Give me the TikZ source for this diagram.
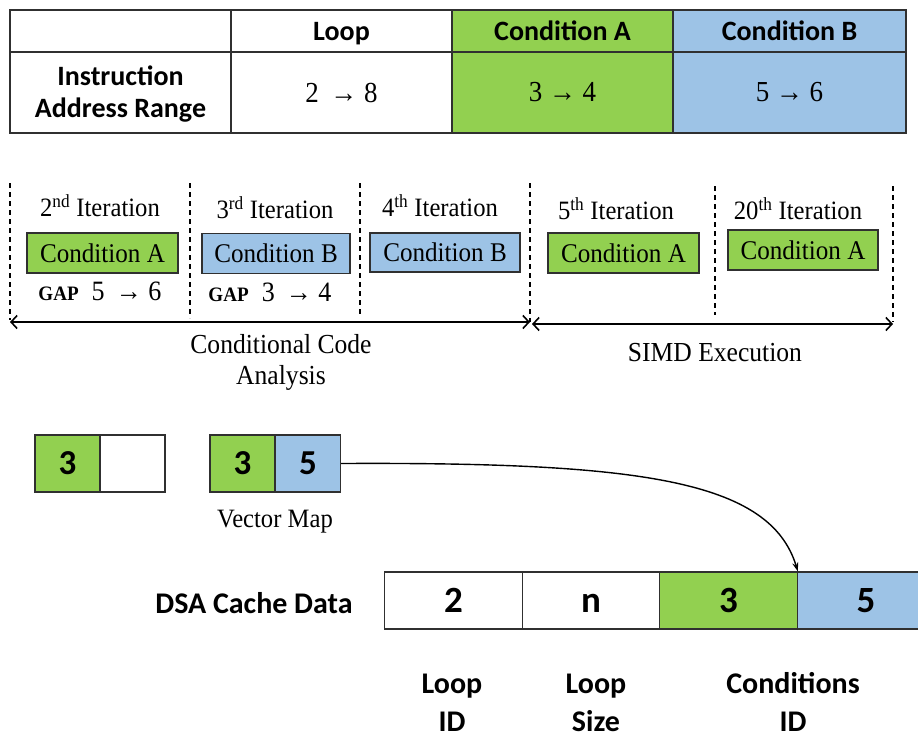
\documentclass[tikz,border=0pt]{standalone}
\usepackage{fontspec}
\setmainfont{Liberation Serif}[FakeStretch=0.93]
\newfontfamily\calib{Carlito}
\usetikzlibrary{arrows.meta}
\definecolor{condA}{HTML}{92D050}
\definecolor{condB}{HTML}{9DC3E6}
\definecolor{rule}{HTML}{303030}
\tikzset{
  cell/.style={draw=rule, line width=1.2pt, inner sep=0pt, anchor=center},
  head/.style={font=\calib\bfseries\fontsize{28}{33}\selectfont},
  toprow/.style={cell, head, minimum width=221pt, minimum height=42pt, text height=20pt, text depth=2pt},
  rng/.style={font=\fontsize{29}{32}\selectfont},
  iter/.style={font=\fontsize{26.5}{30}\selectfont, inner sep=0pt},
  condbox/.style={draw=rule, line width=1.2pt, minimum width=151pt, minimum height=40pt, inner sep=0pt, font=\fontsize{27}{30}\selectfont},
  gap/.style={font=\fontsize{28}{30}\selectfont, inner sep=0pt},
  sep/.style={line width=1.4pt, dash pattern=on 5pt off 4pt},
  span/.style={line width=1.6pt, {Straight Barb[length=6pt,width=13pt,line width=1.6pt]}-{Straight Barb[length=6pt,width=13pt,line width=1.6pt]}},
  vcell/.style={draw=rule, line width=1.2pt, minimum width=65pt, minimum height=57pt, inner sep=0pt, font=\calib\bfseries\fontsize{35}{36}\selectfont},
  dcell/.style={draw=rule, line width=1.2pt, minimum width=137.5pt, minimum height=57pt, inner sep=0pt, text height=24pt, text depth=0pt, font=\calib\bfseries\fontsize{37}{38}\selectfont},
  lbl/.style={font=\calib\bfseries\fontsize{30}{38}\selectfont, align=center, inner sep=0pt},
  note/.style={font=\fontsize{27.5}{31}\selectfont, align=center, inner sep=0pt}
}
\begin{document}
\begin{tikzpicture}[x=1pt, y=-1pt]
\useasboundingbox (0,0) rectangle (918,737);

% address range table
\node[toprow] (t00) at (120.5,31) {};
\node[toprow] (t01) at (341.5,31) {Loop};
\node[toprow, fill=condA] (t02) at (562.5,31) {Condition A};
\node[toprow, fill=condB, minimum width=233pt] (t03) at (789.5,31) {Condition B};
\node[cell, minimum width=221pt, minimum height=81pt] (t10) at (120.5,92.5) {};
\node[head, align=center, inner sep=0pt, anchor=base] (t10txt) at (120.5,117) {Instruction\\[-1pt]Address Range};
\node[cell, minimum width=221pt, minimum height=81pt, rng] (t11) at (341.5,92.5) {2\, → 8};
\node[cell, fill=condA, minimum width=221pt, minimum height=81pt, rng] (t12) at (562.5,92.5) {3 → 4};
\node[cell, fill=condB, minimum width=233pt, minimum height=81pt, rng] (t13) at (789.5,92.5) {5 → 6};

% iteration separators
\coordinate (s0t) at (10,183);  \coordinate (s0b) at (10,320);
\coordinate (s1t) at (190,183); \coordinate (s1b) at (190,318);
\coordinate (s2t) at (360,183); \coordinate (s2b) at (360,315);
\coordinate (s3t) at (530,183); \coordinate (s3b) at (530,322);
\coordinate (s4t) at (715,186); \coordinate (s4b) at (715,315);
\coordinate (s5t) at (893,186); \coordinate (s5b) at (893,322);
\foreach \i in {0,...,5} \draw[sep] (s\i t) -- (s\i b);

% iterations
\node[iter] (i2) at (100,206) {2\textsuperscript{nd} Iteration};
\node[iter] (i3) at (275,208) {3\textsuperscript{rd} Iteration};
\node[iter] (i4) at (440,206) {4\textsuperscript{th} Iteration};
\node[iter] (i5) at (616,209) {5\textsuperscript{th} Iteration};
\node[iter] (i20) at (798,209) {20\textsuperscript{th} Iteration};

\node[condbox, fill=condA] (c2) at (102.5,253) {Condition A};
\node[condbox, fill=condB, minimum width=148pt] (c3) at (276,253.5) {Condition B};
\node[condbox, fill=condB, minimum width=150pt, minimum height=39pt] (c4) at (445,252.5) {Condition B};
\node[condbox, fill=condA] (c5) at (623.5,253) {Condition A};
\node[condbox, fill=condA, minimum width=150pt] (c20) at (803,250) {Condition A};

\node[gap] (g2) at (100,291) {\textbf{\fontsize{20.5}{22}\selectfont GAP}\ \ 5 \,→ 6};
\node[gap] (g3) at (270,292) {\textbf{\fontsize{20.5}{22}\selectfont GAP}\ \ 3 \,→ 4};

% phase spans
\coordinate (a1l) at (10,322);  \coordinate (a1r) at (530,322);
\coordinate (a2l) at (532,324); \coordinate (a2r) at (893,324);
\draw[span] (a1l) -- (a1r);
\draw[span] (a2l) -- (a2r);
\node[note] (ca) at (281,362) {Conditional Code\\Analysis};
\node[note] (simd) at (715,353) {SIMD Execution};

% vector maps
\node[vcell, fill=condA] (v1a) at (67.5,463.5) {3};
\node[vcell] (v1b) at (132.5,463.5) {};
\node[vcell, fill=condA] (v2a) at (242.5,463.5) {3};
\node[vcell, fill=condB] (v2b) at (308,463.5) {5};
\node[note, font=\fontsize{26.5}{30}\selectfont] (vm) at (275,522) {Vector Map};

% DSA cache line
\node[lbl] (dsa) at (254,603) {DSA Cache Data};
\node[dcell] (d1) at (453.5,600.5) {2};
\node[dcell] (d2) at (591,600.5) {n};
\node[dcell, fill=condA] (d3) at (728.5,600.5) {3};
\node[dcell, fill=condB] (d4) at (866,600.5) {5};

\draw[line width=1.4pt, -{Stealth[length=9pt,width=6pt]}] (v2b.east) .. controls (640,462) and (770,480) .. (d3.north east);

\node[lbl, anchor=base] (l1) at (452,731) {Loop\\ID};
\node[lbl, anchor=base] (l2) at (596,731) {Loop\\Size};
\node[lbl, anchor=base] (l3) at (793,731) {Conditions\\ID};
\end{tikzpicture}
\end{document}
